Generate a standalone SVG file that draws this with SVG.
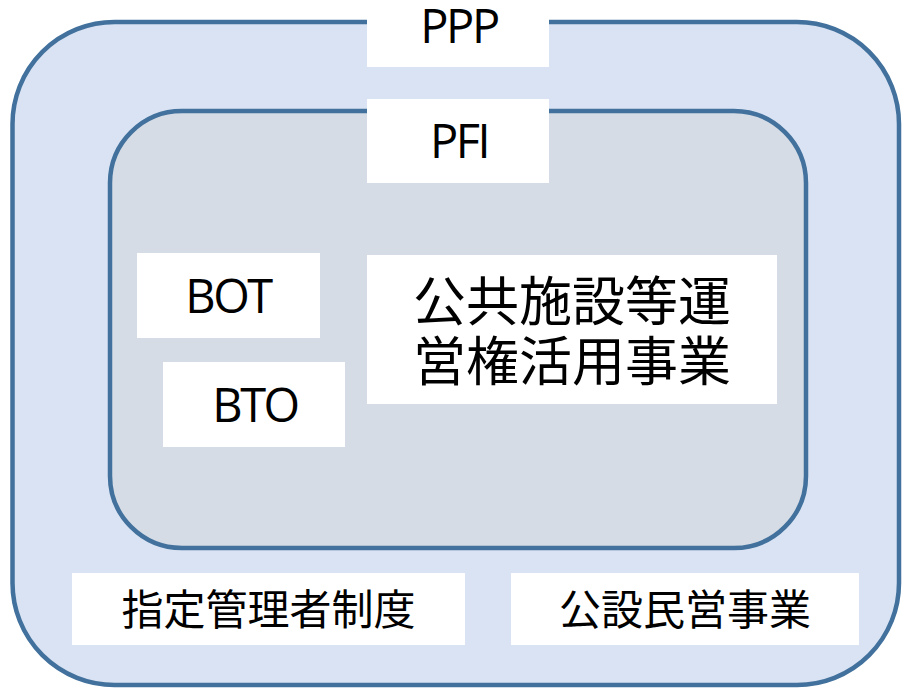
<svg xmlns="http://www.w3.org/2000/svg" width="902" height="688" viewBox="0 0 902 688">
<style>
.box{fill:#FFFFFF;stroke:none}
.lat{font-family:"Open Sans","Liberation Sans",sans-serif;font-size:47px;letter-spacing:-2.5px;fill:#000;text-anchor:middle}
.cjk{font-family:"Noto Sans CJK JP","Noto Sans CJK SC",sans-serif;fill:#000;text-anchor:middle}
.frame{stroke:#41719C;stroke-width:4.5}
</style>
<rect width="902" height="688" fill="#FFFFFF"/>
<g id="ppp">
<rect class="frame" x="12.5" y="22" width="886.5" height="663" rx="102" ry="102" fill="#DAE3F3"/>
</g>
<g id="pfi">
<rect class="frame" x="110" y="111" width="696" height="437" rx="72" ry="72" fill="#D6DCE5"/>
</g>
<g id="label-ppp">
<rect class="box" x="367" y="0" width="182" height="67"/>
<text class="lat" x="459" y="43">PPP</text>
</g>
<g id="label-pfi">
<rect class="box" x="367" y="99" width="182" height="84"/>
<text class="lat" x="459" y="158">PFI</text>
</g>
<g id="bot">
<rect class="box" x="137" y="253" width="183" height="85"/>
<text class="lat" x="228" y="313">BOT</text>
</g>
<g id="bto">
<rect class="box" x="163" y="362" width="182" height="85"/>
<text class="lat" x="255" y="422">BTO</text>
</g>
<g id="concession">
<rect class="box" x="367" y="255" width="410" height="149"/>
<text class="cjk" x="572" y="321" font-size="53">公共施設等運</text>
<text class="cjk" x="572" y="381" font-size="53">営権活用事業</text>
</g>
<g id="shitei">
<rect class="box" x="72" y="573" width="393" height="72"/>
<text class="cjk" x="268.5" y="625" font-size="42">指定管理者制度</text>
</g>
<g id="kosetsu">
<rect class="box" x="511" y="573" width="348" height="72"/>
<text class="cjk" x="685" y="625" font-size="42">公設民営事業</text>
</g>
<g id="connectors"></g>
</svg>
